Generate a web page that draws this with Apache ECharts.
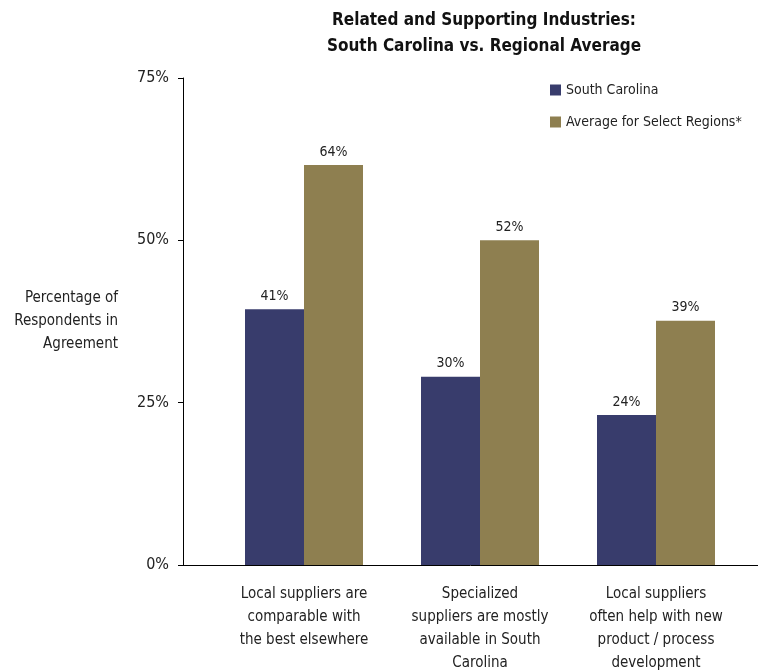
<!DOCTYPE html>
<html>
<head>
    <meta charset="utf-8">
    <title>Related and Supporting Industries</title>
    <script src="https://cdn.jsdelivr.net/npm/echarts@6/dist/echarts.min.js"></script>
    <style>
        body { margin: 0; padding: 0; background: #fff; }
        #chart { width: 758px; height: 670px; }
    </style>
</head>
<body>
    <div id="chart"></div>
    <script>
        // data
        const categories = [
            'Local suppliers are\ncomparable with\nthe best elsewhere',
            'Specialized\nsuppliers are mostly\navailable in South\nCarolina',
            'Local suppliers\noften help with new\nproduct / process\ndevelopment'
        ];
        const seriesNames = ['South Carolina', 'Average for Select Regions*'];
        // bar heights as drawn
        const scValues = [39.4, 29.0, 23.1];
        const avgValues = [61.6, 50.0, 37.6];
        // labels printed above the bars
        const scLabels = ['41%', '30%', '24%'];
        const avgLabels = ['64%', '52%', '39%'];
        const yTicks = [0, 25, 50, 75];

        const FONT = '"Liberation Sans Narrow", "DejaVu Sans Condensed", Arial, sans-serif';
        const chart = echarts.init(document.getElementById('chart'));

        const yMin = yTicks[0], yMax = yTicks[yTicks.length - 1];
        const yStep = yTicks[1] - yTicks[0];

        const option = {
            animation: false,
            textStyle: { fontFamily: FONT, color: '#222' },
            title: {
                text: 'Related and Supporting Industries:\nSouth Carolina vs. Regional Average',
                left: 479,
                textAlign: 'center',
                top: 3,
                textStyle: { fontFamily: FONT, fontSize: 17, fontWeight: 'bold', color: '#111', lineHeight: 26 }
            },
            legend: {
                orient: 'vertical',
                left: 545,
                top: 78,
                itemWidth: 11,
                itemHeight: 11,
                itemGap: 18,
                icon: 'rect',
                textStyle: { fontFamily: FONT, fontSize: 14, color: '#222' },
                data: seriesNames
            },
            grid: [
                // bars
                { left: 216, right: 14, top: 78, bottom: 105, outerBoundsMode: 'none' },
                // long axis lines
                { left: 183, right: 0, top: 78, bottom: 105, outerBoundsMode: 'none' }
            ],
            xAxis: [
                {
                    type: 'category',
                    gridIndex: 0,
                    data: categories,
                    axisLine: { show: false },
                    axisTick: { show: false },
                    axisLabel: {
                        interval: 0,
                        margin: 18,
                        fontFamily: FONT,
                        fontSize: 15,
                        lineHeight: 23,
                        color: '#222'
                    }
                },
                {
                    type: 'category',
                    gridIndex: 1,
                    data: [''],
                    axisLine: { show: true, lineStyle: { color: '#000', width: 1 } },
                    axisTick: { show: false },
                    axisLabel: { show: false }
                }
            ],
            yAxis: [
                {
                    type: 'value',
                    gridIndex: 0,
                    min: yMin, max: yMax, interval: yStep,
                    show: false
                },
                {
                    type: 'value',
                    gridIndex: 1,
                    min: yMin, max: yMax, interval: yStep,
                    name: 'Percentage of\nRespondents in\nAgreement',
                    nameLocation: 'middle',
                    nameRotate: 0,
                    nameGap: 65,
                    nameTextStyle: { fontFamily: FONT, fontSize: 15, lineHeight: 23, color: '#222', align: 'right' },
                    axisLine: { show: true, lineStyle: { color: '#000', width: 1 } },
                    axisTick: { show: true, length: 5, lineStyle: { color: '#000' } },
                    axisLabel: {
                        margin: 14,
                        fontFamily: FONT,
                        fontSize: 16,
                        color: '#222',
                        formatter: v => v + '%'
                    },
                    splitLine: { show: false }
                }
            ],
            series: [
                {
                    name: seriesNames[0],
                    type: 'bar',
                    xAxisIndex: 0, yAxisIndex: 0,
                    data: scValues,
                    barWidth: 59,
                    barGap: '0%',
                    itemStyle: { color: '#383c6c' },
                    label: {
                        show: true,
                        position: 'top',
                        distance: 6,
                        fontFamily: FONT,
                        fontSize: 14,
                        color: '#222',
                        formatter: p => scLabels[p.dataIndex]
                    }
                },
                {
                    name: seriesNames[1],
                    type: 'bar',
                    xAxisIndex: 0, yAxisIndex: 0,
                    data: avgValues,
                    barWidth: 59,
                    barGap: '0%',
                    itemStyle: { color: '#8e7f50' },
                    label: {
                        show: true,
                        position: 'top',
                        distance: 6,
                        fontFamily: FONT,
                        fontSize: 14,
                        color: '#222',
                        formatter: p => avgLabels[p.dataIndex]
                    }
                }
            ]
        };

        chart.setOption(option);

        window.addEventListener('resize', function () {
            chart.resize();
        });
    </script>
</body>
</html>
